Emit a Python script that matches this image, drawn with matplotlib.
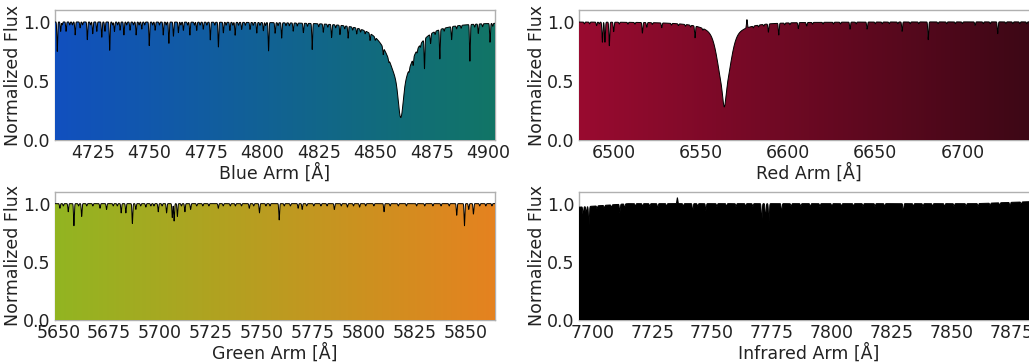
import numpy as np
import matplotlib
matplotlib.use('Agg')
from matplotlib import pyplot as plt
from matplotlib.colors import LinearSegmentedColormap
from matplotlib.patches import Polygon

# ---- blue arm ----
blue_range = (4708.3, 4903.0)
blue_ticks = [4725, 4750, 4775, 4800, 4825, 4850, 4875, 4900]
blue_colors = ['#1150bf', '#127566']
# centre, lorentz depth, gamma, gauss depth, gauss sigma, core depth, core sigma
blue_balmer = (4861.3, 0.53, 6.5, 0.0, 1.0, 0.28, 1.0)
blue_lines = [4709.3, 4710.8, 4713.2, 4717.2, 4719.4, 4722.6, 4725.0, 4726.8, 4729.0, 4730.4,
              4732.5, 4734.6, 4737.1, 4738.8, 4741.5, 4744.2, 4746.7, 4750.0, 4752.6, 4756.2,
              4758.7, 4760.7, 4762.9, 4765.1, 4768.0, 4771.0, 4773.9, 4777.0, 4780.6, 4782.8,
              4785.7, 4788.0, 4790.9, 4794.6, 4797.6, 4800.5, 4802.8, 4805.7, 4808.6, 4813.7,
              4818.2, 4822.1, 4827.0, 4830.7, 4834.4, 4838.0, 4841.8, 4847.7, 4853.5, 4866.8,
              4871.8, 4874.5, 4878.6, 4883.8, 4891.9, 4895.6, 4900.8]
blue_depths = [0.25, 0.08, 0.08, 0.11, 0.05, 0.15, 0.10, 0.08, 0.13, 0.08,
               0.24, 0.08, 0.07, 0.11, 0.07, 0.11, 0.06, 0.20, 0.07, 0.11,
               0.18, 0.12, 0.09, 0.07, 0.11, 0.07, 0.06, 0.15, 0.21, 0.09,
               0.07, 0.11, 0.06, 0.06, 0.09, 0.07, 0.24, 0.09, 0.13, 0.07,
               0.08, 0.22, 0.07, 0.11, 0.08, 0.10, 0.05, 0.06, 0.06, 0.06,
               0.25, 0.08, 0.25, 0.11, 0.31, 0.08, 0.16]
blue_weak = [4711.5, 4714.8, 4716.0, 4720.5, 4724.0, 4733.8, 4736.0, 4740.0, 4743.0, 4745.5,
             4748.0, 4751.5, 4754.5, 4757.5, 4764.0, 4767.0, 4770.0, 4772.5, 4775.5, 4779.0,
             4784.0, 4787.0, 4789.5, 4792.5, 4796.0, 4799.0, 4801.5, 4807.0, 4810.5, 4812.0,
             4815.5, 4820.0, 4825.0, 4829.0, 4832.5, 4836.5, 4840.0, 4843.5, 4845.5, 4850.0,
             4856.0, 4865.0, 4868.5, 4870.0, 4876.5, 4880.5, 4886.0, 4888.0, 4894.0, 4897.5,
             4902.0]

# ---- red arm ----
red_range = (6479.9, 6744.0)
red_ticks = [6500, 6550, 6600, 6650, 6700]
red_colors = ['#990b30', '#3b0715']
red_balmer = (6563.3, 0.16, 9.0, 0.42, 3.2, 0.14, 0.8)
red_lines = [6490.0, 6493.3, 6494.8, 6497.3, 6499.8, 6516.3, 6518.8, 6527.4, 6546.5, 6576.3,
             6588.6, 6594.6, 6605.8, 6610.6, 6635.5, 6645.3, 6665.4, 6680.4, 6707.3, 6720.3]
red_depths = [0.03, 0.17, 0.17, 0.20, 0.08, 0.09, 0.04, 0.04, 0.10, -0.07,
              0.07, 0.10, 0.05, 0.03, 0.06, 0.06, 0.08, 0.15, 0.03, 0.10]
red_weak = [6483.0, 6486.0, 6491.5, 6503.0, 6508.0, 6512.0, 6522.0, 6533.0, 6537.0, 6541.0,
            6544.0, 6551.0, 6580.0, 6583.0, 6586.0, 6598.0, 6601.0, 6614.0, 6620.0, 6626.0,
            6630.0, 6639.0, 6650.0, 6654.0, 6658.0, 6663.0, 6670.0, 6675.0, 6686.0, 6691.0,
            6696.0, 6700.0, 6712.0, 6716.0, 6725.0, 6729.0, 6733.0, 6737.0, 6741.0]

# ---- green arm ----
green_range = (5648.4, 5864.5)
green_ticks = [5650, 5675, 5700, 5725, 5750, 5775, 5800, 5825, 5850]
green_colors = ['#92b522', '#e5821f']
green_lines = [5650.8, 5654.9, 5657.7, 5661.5, 5670.5, 5673.7, 5680.9, 5683.2, 5686.4, 5688.1,
               5693.0, 5699.1, 5703.2, 5706.0, 5706.9, 5708.5, 5712.2, 5715.0, 5728.6, 5743.8,
               5748.8, 5758.5, 5767.8, 5769.8, 5785.6, 5792.0, 5798.0, 5810.0, 5845.7, 5849.5,
               5851.6, 5853.9]
green_depths = [0.04, 0.07, 0.19, 0.11, 0.04, 0.05, 0.08, 0.08, 0.17, 0.05,
                0.03, 0.07, 0.08, 0.12, 0.15, 0.11, 0.07, 0.05, 0.04, 0.04,
                0.08, 0.14, 0.04, 0.05, 0.05, 0.03, 0.03, 0.07, 0.10, 0.19,
                0.05, 0.09]
green_weak = [5652.5, 5660.0, 5664.0, 5667.0, 5677.0, 5679.0, 5690.5, 5695.5, 5697.0, 5701.0,
              5710.5, 5718.0, 5721.0, 5724.0, 5731.0, 5734.5, 5737.0, 5740.0, 5746.0, 5752.0,
              5754.0, 5761.0, 5764.0, 5772.0, 5775.5, 5779.0, 5782.0, 5789.0, 5795.0, 5801.0,
              5805.0, 5813.0, 5817.0, 5821.0, 5826.0, 5830.0, 5834.0, 5838.0, 5842.0, 5857.0,
              5860.0, 5863.0]

# ---- infrared arm ----
ir_range = (7694.45, 7886.4)
ir_ticks = [7700, 7725, 7750, 7775, 7800, 7825, 7850, 7875]
ir_colors = ['#000000', '#000000']
ir_cont = ([7694.45, 7715.0, 7860.0, 7886.4], [0.97, 1.0, 1.0, 1.02])
ir_lines = [7696.2, 7697.5, 7698.6, 7711.5, 7713.5, 7727.3, 7735.5, 7741.9, 7747.4, 7770.7,
            7772.3, 7773.7, 7779.0, 7791.0, 7800.0, 7829.8, 7847.0, 7874.3]
ir_depths = [0.07, 0.06, 0.16, 0.07, 0.04, 0.04, -0.05, 0.07, 0.06, 0.16,
             0.14, 0.16, 0.08, 0.03, 0.03, 0.08, 0.03, 0.04]
ir_weak = [7702.0, 7705.0, 7708.0, 7718.0, 7721.0, 7724.0, 7731.0, 7738.0, 7744.0, 7752.0,
           7756.0, 7760.0, 7764.0, 7767.0, 7783.0, 7787.0, 7795.0, 7804.0, 7809.0, 7813.0,
           7818.0, 7822.0, 7834.0, 7838.0, 7842.0, 7851.0, 7856.0, 7861.0, 7866.0, 7870.0,
           7879.0, 7883.0]

TEXT = '#222222'
SPINE = '#b0b0b0'


def make_flux(wl, lines, depths, weak, sigma, weak_depth=0.025, balmer=None, cont=None):
    if cont is None:
        flux = np.ones_like(wl)
    else:
        flux = np.interp(wl, cont[0], cont[1])
    for c, d in zip(lines, depths):
        flux -= d * np.exp(-0.5 * ((wl - c) / sigma) ** 2)
    for c in weak:
        flux -= weak_depth * np.exp(-0.5 * ((wl - c) / sigma) ** 2)
    if balmer is not None:
        c, dl, g, dg, sg, dc, sc = balmer
        flux -= dl / (1 + ((wl - c) / g) ** 2)
        flux -= dg * np.exp(-0.5 * ((wl - c) / sg) ** 2)
        flux -= dc * np.exp(-0.5 * ((wl - c) / sc) ** 2)
    return np.clip(flux, 0, None)


def draw_arm(rect, xr, ticks, colors, flux_args, xlabel):
    ax = fig.add_axes(rect)
    wl = np.linspace(xr[0], xr[1], 5000)
    flux = make_flux(wl, **flux_args)
    top = 1.1
    cmap = LinearSegmentedColormap.from_list('arm', colors)
    grad = np.linspace(0, 1, 256).reshape(1, -1)
    im = ax.imshow(grad, cmap=cmap, aspect='auto', extent=[xr[0], xr[1], 0, top],
                   origin='lower', zorder=3, interpolation='bilinear')
    verts = np.column_stack([np.r_[wl[0], wl, wl[-1]], np.r_[0, flux, 0]])
    poly = Polygon(verts, closed=True, fc='none', ec='none')
    ax.add_patch(poly)
    im.set_clip_path(poly)
    ax.plot(wl, flux, color='black', lw=0.7, zorder=4)
    ax.set_xlim(xr)
    ax.set_ylim(0, top)
    ax.set_xticks(ticks)
    ax.set_yticks([0.0, 0.5, 1.0])
    ax.set_yticklabels(['0.0', '0.5', '1.0'])
    ax.tick_params(length=0, pad=3, labelsize=12.5, colors=TEXT)
    for s in ax.spines.values():
        s.set_color(SPINE)
        s.set_linewidth(1.0)
    ax.set_xlabel(xlabel, fontsize=12.5, color=TEXT, labelpad=1)
    ax.set_ylabel('Normalized Flux', fontsize=12.5, color=TEXT, labelpad=1)
    return ax


W, H = 1029, 363
fig = plt.figure(figsize=(W / 100, H / 100), dpi=100)


def rect(l, t, w, b):
    return [l / W, (H - b) / H, w / W, (b - t) / H]


draw_arm(rect(55, 10, 440, 140), blue_range, blue_ticks, blue_colors,
         dict(lines=blue_lines, depths=blue_depths, weak=blue_weak, sigma=0.18, balmer=blue_balmer),
         'Blue Arm [Å]')
draw_arm(rect(579, 10, 460, 140), red_range, red_ticks, red_colors,
         dict(lines=red_lines, depths=red_depths, weak=red_weak, sigma=0.25, weak_depth=0.015,
              balmer=red_balmer),
         'Red Arm [Å]')
draw_arm(rect(55, 192, 440, 320), green_range, green_ticks, green_colors,
         dict(lines=green_lines, depths=green_depths, weak=green_weak, sigma=0.2, weak_depth=0.02),
         'Green Arm [Å]')
draw_arm(rect(579, 192, 460, 320), ir_range, ir_ticks, ir_colors,
         dict(lines=ir_lines, depths=ir_depths, weak=ir_weak, sigma=0.18, weak_depth=0.025,
              cont=ir_cont),
         'Infrared Arm [Å]')

fig.savefig('out.png', dpi=100)
